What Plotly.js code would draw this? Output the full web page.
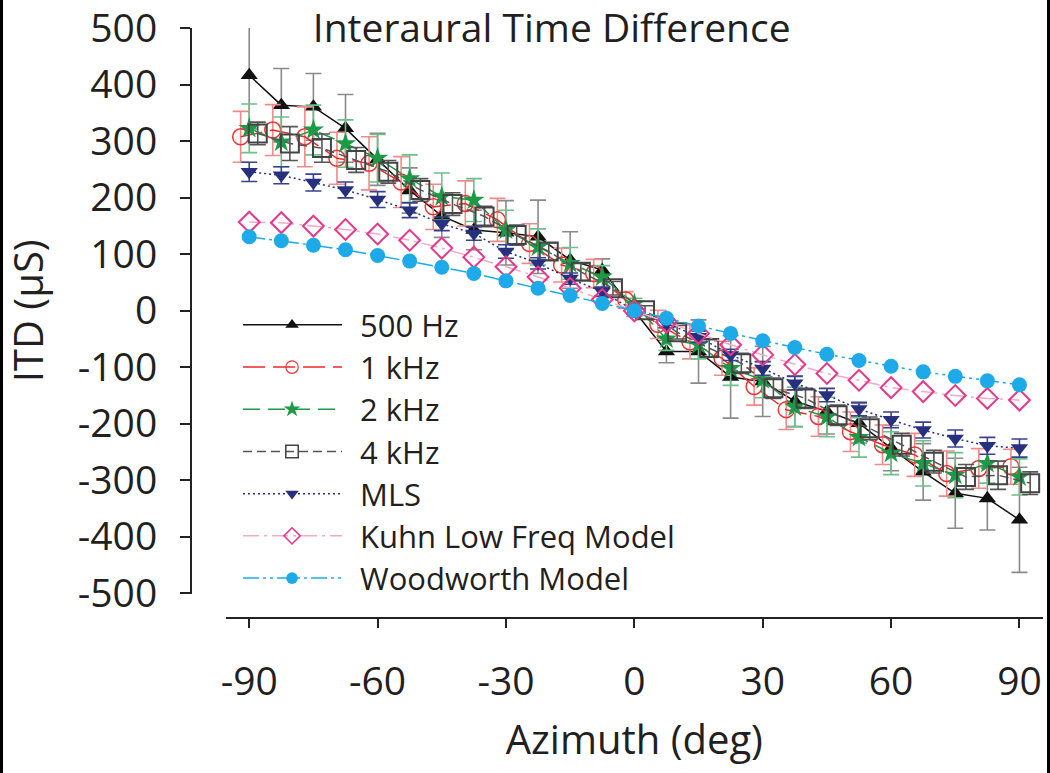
<!DOCTYPE html>
<html>
<head>
<meta charset="utf-8">
<script src="https://cdn.plot.ly/plotly-3.0.1.min.js"></script>
<style>
html,body{margin:0;padding:0;background:#fff;}
#chart{width:1050px;height:773px;}
</style>
</head>
<body>
<div id="chart"></div>
<script>
// Azimuth (deg) of the measured points
var az = [-90,-82.5,-75,-67.5,-60,-52.5,-45,-37.5,-30,-22.5,-15,-7.5,0,7.5,15,22.5,30,37.5,45,52.5,60,67.5,75,82.5,90];
// 1 kHz and 4 kHz are plotted slightly shifted in azimuth in the figure
var az1k = [-92,-84.5,-77,-69.5,-62,-54.5,-47,-39.5,-32,-24.5,-17,-9.5,-2,5.5,13,20.5,28,35.5,43,50.5,58,65.5,73,80.5,88];
var az4k = [-88,-80.5,-73,-65,-57.5,-50,-42.5,-35,-27.5,-20,-12.5,-5,2.5,10,17.5,25,32.5,40,47.5,55,62.5,70,77.5,85,92.5];

// ITD (µs)
var itd500 = [417,364,361,323,268,213,168,143,138,131,90,72,0,-72,-72,-117,-125,-160,-178,-199,-243,-285,-323,-332,-370];
var err500 = [95,65,59,60,46,40,38,35,57,65,50,20,10,20,56,73,62,45,40,35,40,50,62,56,93];

var itd1k = [308,320,308,270,261,228,184,190,161,119,81,66,19,-24,-55,-84,-134,-175,-187,-214,-237,-255,-288,-279,-276];
var err1k = [45,45,53,46,47,45,40,40,38,35,30,25,15,25,30,30,33,35,35,35,35,38,40,35,31];

var itd2k = [323,299,320,296,270,234,202,196,143,113,84,60,12,-50,-60,-102,-122,-170,-188,-224,-252,-270,-291,-270,-294];
var err2k = [43,44,44,42,42,42,42,38,35,32,28,20,10,20,25,30,32,35,35,35,38,40,40,35,32];

var itd4k = [314,296,288,267,246,214,189,167,134,105,69,40,1,-38,-66,-93,-137,-155,-185,-208,-237,-267,-294,-291,-305];
var err4k = [20,30,25,22,20,20,20,18,18,15,15,12,8,12,15,18,18,18,18,20,20,20,22,25,20];

var itdMLS = [246,240,227,214,197,178,154,137,105,84,57,34,0,-22,-46,-78,-102,-128,-149,-174,-193,-211,-226,-239,-243];
var errMLS = [17,15,15,14,14,13,12,12,12,10,10,8,5,8,10,10,12,12,12,12,14,14,15,15,16];

var itdKuhn = [157,156,150,144,136,125,111,95,78,60,40,20,0,-20,-40,-60,-78,-95,-111,-123,-136,-143,-150,-155,-158];
var itdWood = [131,124,116,108,98,88,77,66,53,40,27,13,0,-13,-27,-40,-53,-65,-77,-88,-98,-108,-116,-124,-131];

var xTicks = [-90,-60,-30,0,30,60,90];
var yTicks = [-500,-400,-300,-200,-100,0,100,200,300,400,500];
var names = ['500 Hz','1 kHz','2 kHz','4 kHz','MLS','Kuhn Low Freq Model','Woodworth Model'];

var FONT = 'Open Sans, Noto Sans, sans-serif';
var TXT = '#231f20';

function eb(arr, color){
  return {type:'data', array:arr, visible:true, color:color, thickness:1.6, width:8};
}

var traces = [
  {x:az, y:itd500, name:names[0], mode:'lines+markers', cliponaxis:false,
   line:{color:'#111111', width:1.5},
   marker:{symbol:'triangle-up', size:15, color:'#111111'},
   error_y:eb(err500,'#8a8a8a')},
  {x:az1k, y:itd1k, name:names[1], mode:'lines+markers', cliponaxis:false,
   line:{color:'#ee2a2a', width:1.5, dash:'22px,8px'},
   marker:{symbol:'circle-open', size:16, color:'#ee3333', line:{width:1.5}},
   error_y:eb(err1k,'#f28a8a')},
  {x:az, y:itd2k, name:names[2], mode:'lines+markers', cliponaxis:false,
   line:{color:'#1c9a45', width:1.5, dash:'17px,8px'},
   marker:{symbol:'star', size:16, color:'#1c9a45'},
   error_y:eb(err2k,'#6cc08a')},
  {x:az4k, y:itd4k, name:names[3], mode:'lines+markers', cliponaxis:false,
   line:{color:'#555555', width:1.5, dash:'9px,5px'},
   marker:{symbol:'square-open', size:18, color:'#444444', line:{width:2}},
   error_y:eb(err4k,'#555555')},
  {x:az, y:itdMLS, name:names[4], mode:'lines+markers', cliponaxis:false,
   line:{color:'#27307f', width:1.5, dash:'2px,3px'},
   marker:{symbol:'triangle-down', size:15, color:'#27307f'},
   error_y:eb(errMLS,'#3a4290')},
  {x:az, y:itdKuhn, name:names[5], mode:'lines+markers', cliponaxis:false,
   line:{color:'#f4a9c6', width:1.5, dash:'16px,5px,3px,5px'},
   marker:{symbol:'diamond-open', size:16, color:'#e8388a', line:{width:2}}},
  {x:az, y:itdWood, name:names[6], mode:'lines+markers', cliponaxis:false,
   line:{color:'#1eaae8', width:1.5, dash:'16px,4px,3px,4px,3px,4px'},
   marker:{symbol:'circle', size:15, color:'#1eaae8'}}
];

var layout = {
  width:1050, height:773,
  margin:{l:191, r:7, t:28, b:155, autoexpand:false},
  paper_bgcolor:'#ffffff', plot_bgcolor:'rgba(0,0,0,0)',
  font:{family:FONT, color:TXT},
  showlegend:true,
  title:{text:'Interaural Time Difference', font:{family:FONT, size:39, color:TXT},
         x:551.7/1050, xref:'container', xanchor:'center',
         y:1-28.5/773, yref:'container', yanchor:'middle'},
  xaxis:{domain:[0.0407,1], range:[-95.5,95.5], anchor:'free', position:0,
         showline:true, linecolor:'#222', linewidth:2,
         ticks:'outside', ticklen:9, tickwidth:2, tickcolor:'#222',
         tickvals:xTicks, ticktext:xTicks.map(String),
         tickfont:{family:FONT, size:39, color:TXT}, ticklabelstandoff:20,
         ticklabeloverflow:'allow',
         showgrid:false, zeroline:false,
         title:{text:'Azimuth (deg)', font:{family:FONT, size:40, color:TXT}, standoff:20}},
  yaxis:{domain:[0.0413,1], range:[-500.6,500.6], anchor:'free', position:0,
         showline:true, linecolor:'#222', linewidth:2,
         ticks:'outside', ticklen:10, tickwidth:2, tickcolor:'#222',
         tickvals:yTicks, ticktext:yTicks.map(String),
         tickfont:{family:FONT, size:39, color:TXT}, ticklabelstandoff:15,
         ticklabeloverflow:'allow',
         showgrid:false, zeroline:false,
         title:{text:'ITD (μS)', font:{family:FONT, size:40, color:TXT}, standoff:28}},
  legend:{x:0.0552, y:0.542, xanchor:'left', yanchor:'top',
          bgcolor:'rgba(0,0,0,0)', borderwidth:0,
          font:{family:FONT, size:31, color:TXT}, itemwidth:112, tracegroupgap:0},
  shapes:[
    {type:'line', xref:'paper', yref:'paper', x0:(1.5-191)/852, x1:(1.5-191)/852, y0:-0.3, y1:1.1,
     line:{color:'#000', width:3}},
    {type:'line', xref:'paper', yref:'paper', x0:(1048.5-191)/852, x1:(1048.5-191)/852, y0:-0.3, y1:1.1,
     line:{color:'#000', width:3}}
  ]
};

// Lengthen legend line samples and even out the row spacing (legend styling only)
function stretchLegend(gd){
  var items = gd.querySelectorAll('.legend .traces');
  var y0 = null, step = 42.2;
  items.forEach(function(g, i){
    g.querySelectorAll('.legendlines path').forEach(function(p){ p.setAttribute('d','M5,0h99'); });
    g.querySelectorAll('.legendpoints path.scatterpts').forEach(function(p){
      p.setAttribute('transform','translate(54,0) scale(0.78)');
    });
    var t = g.getAttribute('transform') || '';
    var m = t.match(/translate\(\s*([-\d.]+)[ ,]+([-\d.]+)\s*\)/);
    if (m) {
      var x = parseFloat(m[1]), y = parseFloat(m[2]);
      if (y0 === null) y0 = y;
      g.setAttribute('transform','translate(' + x + ',' + (y0 + i*step) + ')');
    }
  });
}

Plotly.newPlot('chart', traces, layout, {displayModeBar:false, staticPlot:true}).then(function(gd){
  stretchLegend(gd);
});
</script>
</body>
</html>
